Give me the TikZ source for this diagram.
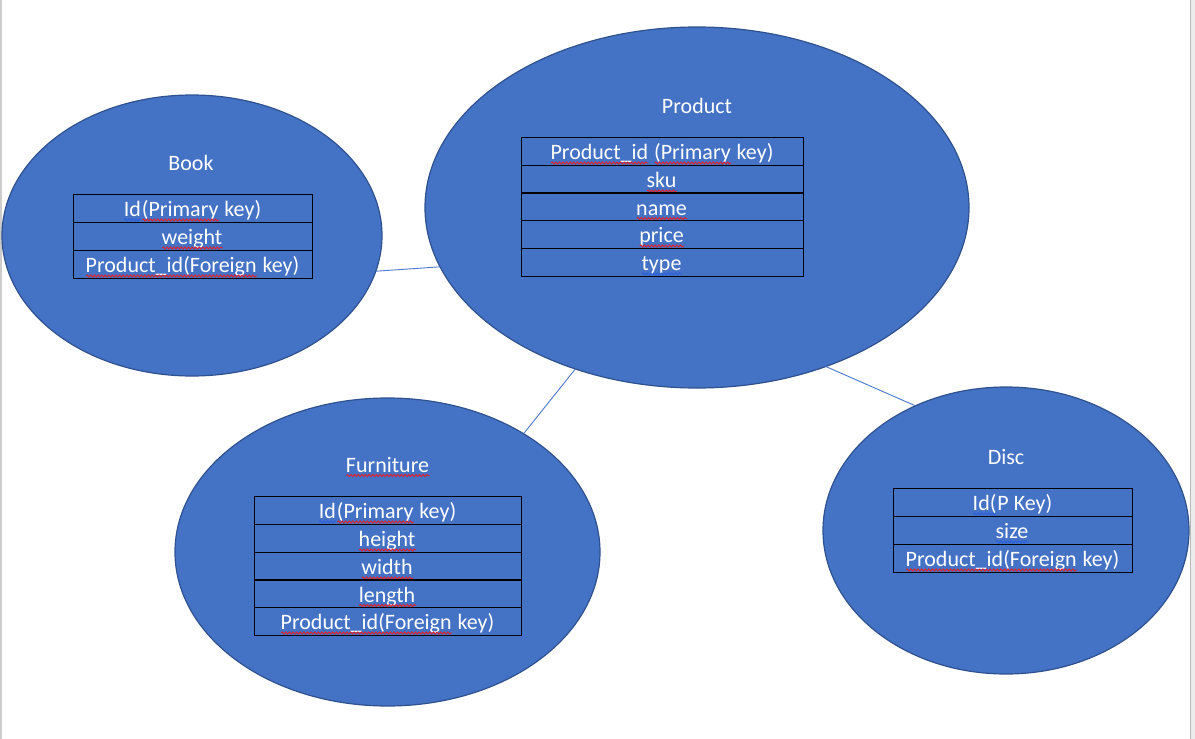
\documentclass[tikz,border=0pt]{standalone}
\usepackage{fontspec}
\setmainfont{Carlito}
\usetikzlibrary{shapes.geometric,decorations.pathmorphing}
\definecolor{fillblue}{HTML}{4472C4}
\definecolor{edgeblue}{HTML}{2F528F}
\definecolor{linkblue}{HTML}{4A78CC}
\definecolor{sqred}{HTML}{E0202A}
\definecolor{sqblue}{HTML}{2A5FE0}
\newcommand\fsz{\fontsize{22}{26}\selectfont}
\newsavebox\sqbox
\newcommand\sq[2][sqred]{\sbox\sqbox{#2}\rlap{\usebox\sqbox}\tikz[baseline=0pt]{\draw[#1,line width=0.95pt,decorate,decoration={snake,amplitude=1pt,segment length=3.6pt}](0pt,-3.5pt)--(\wd\sqbox,-3.5pt);}}
\begin{document}
\begin{tikzpicture}[x=1pt,y=-1pt,
  ent/.style={ellipse, fill=fillblue, draw=edgeblue, line width=1.2pt, inner sep=0pt, outer sep=0pt},
  ttl/.style={text=white, font=\fsz, inner sep=0pt, anchor=base},
  cell/.style={draw=black, line width=0.8pt, text=white, font=\fsz, inner sep=0pt, text height=19pt, text depth=2pt, anchor=center},
  link/.style={draw=linkblue, line width=0.9pt}]
\useasboundingbox (0,0) rectangle (1195,739);
\fill[white] (0,0) rectangle (1195,739);
\fill[gray!40] (0,0) rectangle (2,739);
\fill[gray!15] (1190,0) rectangle (1195,739);
\draw[gray!55,line width=1pt] (1190.5,0) -- (1190.5,739);

% entities
\node[ent, minimum width=380pt, minimum height=281pt] (book) at (192,235.5) {};
\node[ent, minimum width=544pt, minimum height=361pt] (product) at (697,207.5) {};
\node[ent, minimum width=425pt, minimum height=308pt] (furniture) at (387.5,552) {};
\node[ent, minimum width=366pt, minimum height=287pt] (disc) at (1006,530.5) {};

% connectors
\draw[link] (book.-11) -- (product.-167);
\draw[link] (furniture.41) -- (product.-127);
\draw[link] (product.-51.6) -- (disc.126.5);

% titles
\node[ttl] (tbook) at (191,170) {Book};
\node[ttl] (tproduct) at (697,113) {Product};
\node[ttl] (tfurniture) at (388,472) {\sq{Furniture}};
\node[ttl] (tdisc) at (1006,464) {Disc};

% Book table
\begin{scope}[every node/.style={cell, minimum width=239pt, minimum height=28pt}]
\node (b1) at (192.5,208) {\sq[sqblue]{Id}\sq{(Primary} key)};
\node (b2) at (192.5,236) {\sq{weight}};
\node (b3) at (192.5,264) {\sq{Product\_id(Foreign} key)};
\end{scope}

% Product table
\begin{scope}[every node/.style={cell, minimum width=282pt, minimum height=27.8pt}]
\node (p1) at (662,151) {\sq{Product\_id} \sq{(Primary} key)};
\node (p2) at (662,179) {\sq{sku}};
\node (p3) at (662,206.5) {\sq{name}};
\node (p4) at (662,234) {\sq{price}};
\node (p5) at (662,262) {\sq[sqblue]{type}};
\end{scope}

% Furniture table
\begin{scope}[every node/.style={cell, minimum width=267pt, minimum height=27.8pt}]
\node (f1) at (387.5,510) {\sq[sqblue]{Id}\sq{(Primary} key)};
\node (f2) at (387.5,538) {\sq{height}};
\node (f3) at (387.5,566) {\sq{width}};
\node (f4) at (387.5,593.5) {\sq{length}};
\node (f5) at (387.5,621) {\sq{Product\_id(Foreign} key)};
\end{scope}

% Disc table
\begin{scope}[every node/.style={cell, minimum width=239pt, minimum height=28pt}]
\node (d1) at (1012.5,502) {\sq[sqblue]{Id(}P Key)};
\node (d2) at (1012.5,530) {\sq[sqblue]{size}};
\node (d3) at (1012.5,558) {\sq{Product\_id(Foreign} key)};
\end{scope}
\end{tikzpicture}
\end{document}
